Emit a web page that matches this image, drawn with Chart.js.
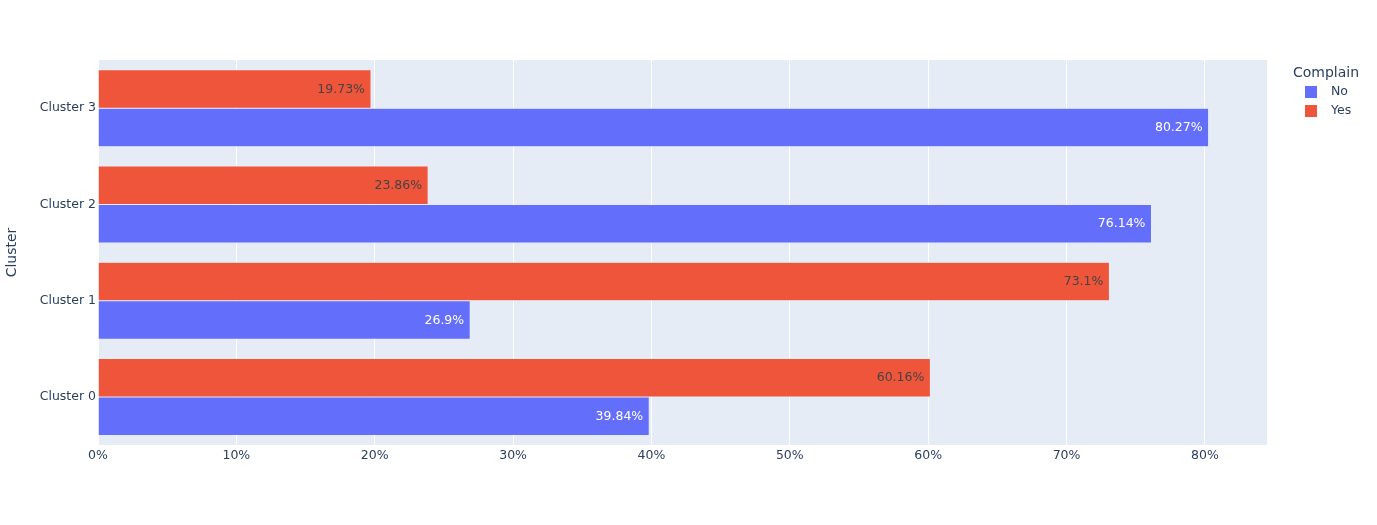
<!DOCTYPE html>
<html>
<head>
<meta charset="utf-8">
<script src="https://cdn.jsdelivr.net/npm/chart.js@4.4.1/dist/chart.umd.min.js"></script>
<style>
  html, body { margin: 0; padding: 0; background: #fff; }
  #wrap { width: 1377px; height: 525px; position: relative; }
</style>
</head>
<body>
<div id="wrap"><canvas id="c" width="1377" height="525"></canvas></div>
<script>
// Categories listed top to bottom (Plotly draws Cluster 0 at the bottom)
const categories = ['Cluster 3', 'Cluster 2', 'Cluster 1', 'Cluster 0'];
const noValues  = [80.27, 76.14, 26.9, 39.84];
const yesValues = [19.73, 23.86, 73.1, 60.16];
const seriesNames = ['No', 'Yes'];
const seriesColors = ['#636EFA', '#EF553B'];
const labelColors = ['#ffffff', '#444444'];
const xTicks = [0, 10, 20, 30, 40, 50, 60, 70, 80];
const xMax = 84.49;

const FONT = '"DejaVu Sans", Verdana, sans-serif';
const TEXT = '#2a3f5f';

const bgPlugin = {
  id: 'plotBg',
  beforeDraw(chart) {
    const {ctx, chartArea: a} = chart;
    ctx.save();
    ctx.fillStyle = '#E5ECF6';
    ctx.fillRect(a.left, a.top, a.right - a.left, a.bottom - a.top);
    ctx.restore();
  }
};

const valueLabels = {
  id: 'valueLabels',
  afterDatasetsDraw(chart) {
    const {ctx} = chart;
    ctx.save();
    ctx.font = '12.5px ' + FONT;
    ctx.textAlign = 'right';
    ctx.textBaseline = 'middle';
    chart.data.datasets.forEach((ds, di) => {
      const meta = chart.getDatasetMeta(di);
      meta.data.forEach((bar, i) => {
        ctx.fillStyle = ds.labelColor;
        ctx.fillText(ds.data[i] + '%', bar.x - 6, bar.y + 0.5);
      });
    });
    ctx.restore();
  }
};

const legendPlugin = {
  id: 'customLegend',
  afterDraw(chart) {
    const {ctx} = chart;
    ctx.save();
    ctx.fillStyle = TEXT;
    ctx.font = '14px ' + FONT;
    ctx.textAlign = 'left';
    ctx.textBaseline = 'middle';
    ctx.fillText('Complain', 1293, 73);
    ctx.font = '12.5px ' + FONT;
    seriesNames.forEach((name, i) => {
      const y = 92 + i * 19;
      ctx.fillStyle = seriesColors[i];
      ctx.fillRect(1305, y - 6, 12, 12);
      ctx.fillStyle = TEXT;
      ctx.fillText(name, 1331, y);
    });
    ctx.restore();
  }
};

new Chart(document.getElementById('c'), {
  type: 'bar',
  data: {
    labels: categories,
    datasets: [
      { label: seriesNames[1], data: yesValues, backgroundColor: seriesColors[1], labelColor: labelColors[1],
        borderColor: '#E5ECF6', borderWidth: 0.5 },
      { label: seriesNames[0], data: noValues, backgroundColor: seriesColors[0], labelColor: labelColors[0],
        borderColor: '#E5ECF6', borderWidth: 0.5 }
    ]
  },
  options: {
    indexAxis: 'y',
    responsive: false,
    animation: false,
    devicePixelRatio: 1,
    categoryPercentage: 0.8,
    barPercentage: 1.0,
    layout: { padding: { left: 0, top: 60, right: 110, bottom: 0 } },
    plugins: {
      legend: { display: false },
      tooltip: { enabled: false }
    },
    scales: {
      x: {
        min: 0, max: xMax,
        border: { display: false },
        grid: { color: '#ffffff', lineWidth: 1, drawTicks: false },
        afterBuildTicks(scale) { scale.ticks = xTicks.map(v => ({ value: v })); },
        ticks: {
          color: TEXT,
          font: { family: FONT, size: 12.5 },
          padding: 3,
          callback: v => v + '%'
        },
        afterFit(scale) { scale.height = 80; }
      },
      y: {
        border: { display: false },
        grid: { display: false, drawTicks: false },
        ticks: { color: TEXT, font: { family: FONT, size: 12.5 }, padding: 2 },
        title: {
          display: true, text: 'Cluster', color: TEXT,
          font: { family: FONT, size: 14 },
          padding: { top: 4, bottom: 0 }
        },
        afterFit(scale) { scale.width = 98; }
      }
    }
  },
  plugins: [bgPlugin, valueLabels, legendPlugin]
});
</script>
</body>
</html>
